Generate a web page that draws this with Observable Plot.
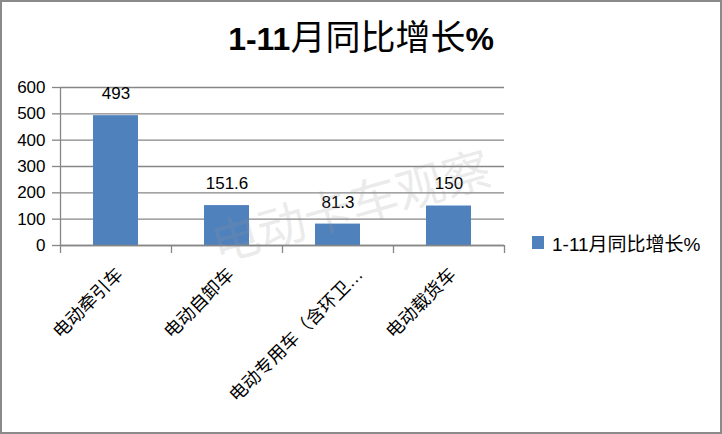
<!DOCTYPE html>
<html>
<head>
<meta charset="utf-8">
<script src="https://cdn.jsdelivr.net/npm/d3@7"></script>
<script src="https://cdn.jsdelivr.net/npm/@observablehq/plot@0.6"></script>
<style>
  html, body { margin: 0; padding: 0; background: #fff; }
  #wrap { position: relative; width: 722px; height: 434px; overflow: hidden; background: #fff; }
  #chart { position: absolute; left: 0; top: 0; }
  #border { position: absolute; left: 0; top: 0; width: 722px; height: 434px; box-sizing: border-box;
            border: 2px solid #8a8a8a; pointer-events: none; }
  #title { position: absolute; left: 0; width: 722px; top: 12px; text-align: center; white-space: nowrap;
           color: #000; line-height: 46px; }
  #title .num { font-family: "Liberation Sans", Arial, sans-serif; font-weight: bold; font-size: 32px; }
  #title .cjk { font-family: "Noto Sans CJK SC", sans-serif; font-weight: normal; font-size: 35px; }
  #legend { position: absolute; left: 532px; top: 229px; display: flex; align-items: center; white-space: nowrap;
            font-family: "Liberation Sans", "Noto Sans CJK SC", sans-serif; font-size: 19px; color: #000; }
  #legend .sw { width: 12px; height: 13px; background: #4F81BD; margin-right: 8px; }
  #wm { position: absolute; left: 350px; top: 203px; transform: translate(-50%, -50%) rotate(-15.8deg);
        font-family: "Noto Sans CJK SC", sans-serif; font-size: 48px; color: rgba(150,150,150,0.2);
        white-space: nowrap; pointer-events: none; }
</style>
</head>
<body>
<div id="wrap">
  <div id="chart"></div>
  <div id="title"></div>
  <div id="legend"><div class="sw"></div><span id="legtext"></span></div>
  <div id="wm"></div>
  <div id="border"></div>
</div>
<script>
const categories = ["电动牵引车", "电动自卸车", "电动专用车（含环卫…", "电动载货车"];
const values = [493, 151.6, 81.3, 150];
const yTicks = [0, 100, 200, 300, 400, 500, 600];
const seriesName = "1-11月同比增长%";
const watermark = "电动卡车观察";

const data = categories.map((c, i) => ({category: c, value: values[i]}));
const gray = "#868686";
const step = 111;

const chart = Plot.plot({
  width: 722,
  height: 434,
  marginLeft: 60,
  marginRight: 218,
  marginTop: 87,
  marginBottom: 189,
  x: {domain: categories, paddingInner: 0.595, paddingOuter: 0.2975, axis: null},
  y: {domain: [0, 600], axis: null},
  style: {fontFamily: '"Liberation Sans", "Noto Sans CJK SC", sans-serif', fontSize: "17px", color: "#000", background: "transparent"},
  marks: [
    Plot.gridY(yTicks, {stroke: gray, strokeOpacity: 1, strokeWidth: 1.3}),
    Plot.barY(data, {x: "category", y: "value", fill: "#4F81BD"}),
    Plot.ruleY([0], {stroke: gray, strokeWidth: 1.3}),
    Plot.ruleX([categories[0]], {dx: -step / 2, stroke: gray, strokeWidth: 1.3, insetBottom: -8}),
    Plot.ruleX(categories, {dx: step / 2, stroke: gray, strokeWidth: 1.3, insetTop: 158, insetBottom: -8}),
    Plot.axisY({ticks: yTicks, label: null, tickSize: 8, tickPadding: 7, stroke: gray, strokeWidth: 1.3, fill: "#000", fontSize: 17}),
    Plot.text(data, {x: "category", y: "value", text: d => String(d.value), dy: -22, fontSize: 17, fill: "#000"}),
    Plot.text(categories.filter((d, i) => i !== 2), {x: d => d, frameAnchor: "bottom", rotate: -45, textAnchor: "end", lineAnchor: "middle", dx: 4, dy: 26, fontSize: 18, fill: "#000"}),
    Plot.text([categories[2]], {x: d => d, frameAnchor: "bottom", rotate: -45, textAnchor: "end", lineAnchor: "middle", dx: 22, dy: 26, fontSize: 18, fill: "#000"})
  ]
});
document.getElementById("chart").appendChild(chart);

// title: digits bold, CJK regular
const t = document.getElementById("title");
seriesName.split(/([\u4e00-\u9fff]+)/).filter(s => s).forEach(s => {
  const sp = document.createElement("span");
  sp.className = /[\u4e00-\u9fff]/.test(s) ? "cjk" : "num";
  sp.textContent = s;
  t.appendChild(sp);
});
document.getElementById("legtext").textContent = seriesName;
document.getElementById("wm").textContent = watermark;
</script>
</body>
</html>
